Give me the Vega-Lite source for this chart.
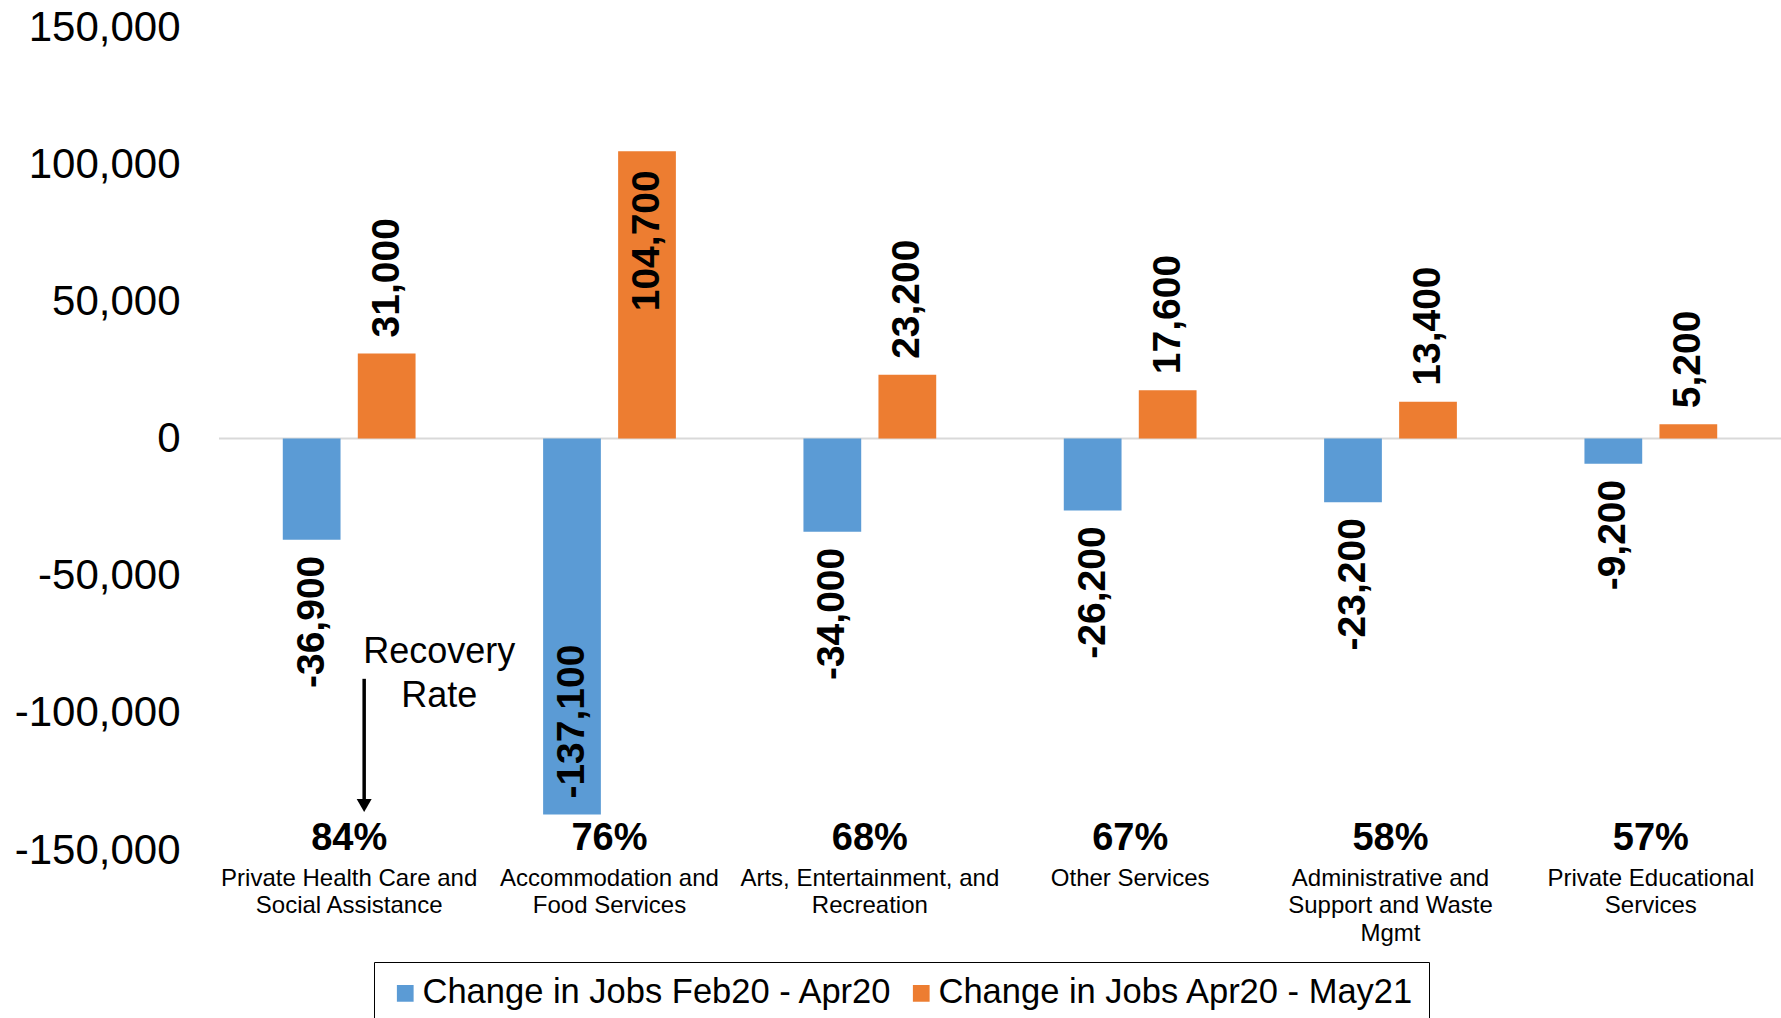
{
  "$schema": "https://vega.github.io/schema/vega-lite/v6.json",
  "autosize": {"type": "none"},
  "padding": {"left": 219, "top": 27, "right": 0, "bottom": 168},
  "width": 1562,
  "height": 823,
  "background": "white",
  "config": {
    "font": "Liberation Sans",
    "view": {"stroke": null},
    "locale": {"number": {"decimal": ".", "thousands": ",", "grouping": [3], "currency": ["$", ""], "minus": "-"}}
  },
  "datasets": {
    "jobs": [
      {"category": "Private Health Care and Social Assistance", "series": "Change in Jobs Feb20 - Apr20", "value": -36900},
      {"category": "Private Health Care and Social Assistance", "series": "Change in Jobs Apr20 - May21", "value": 31000},
      {"category": "Accommodation and Food Services", "series": "Change in Jobs Feb20 - Apr20", "value": -137100},
      {"category": "Accommodation and Food Services", "series": "Change in Jobs Apr20 - May21", "value": 104700},
      {"category": "Arts, Entertainment, and Recreation", "series": "Change in Jobs Feb20 - Apr20", "value": -34000},
      {"category": "Arts, Entertainment, and Recreation", "series": "Change in Jobs Apr20 - May21", "value": 23200},
      {"category": "Other Services", "series": "Change in Jobs Feb20 - Apr20", "value": -26200},
      {"category": "Other Services", "series": "Change in Jobs Apr20 - May21", "value": 17600},
      {"category": "Administrative and Support and Waste Mgmt", "series": "Change in Jobs Feb20 - Apr20", "value": -23200},
      {"category": "Administrative and Support and Waste Mgmt", "series": "Change in Jobs Apr20 - May21", "value": 13400},
      {"category": "Private Educational Services", "series": "Change in Jobs Feb20 - Apr20", "value": -9200},
      {"category": "Private Educational Services", "series": "Change in Jobs Apr20 - May21", "value": 5200}
    ],
    "rates": [
      {"category": "Private Health Care and Social Assistance", "rate": "84%"},
      {"category": "Accommodation and Food Services", "rate": "76%"},
      {"category": "Arts, Entertainment, and Recreation", "rate": "68%"},
      {"category": "Other Services", "rate": "67%"},
      {"category": "Administrative and Support and Waste Mgmt", "rate": "58%"},
      {"category": "Private Educational Services", "rate": "57%"}
    ],
    "note": [
      {"category": "Private Health Care and Social Assistance", "label": "Recovery Rate"}
    ]
  },
  "data": {"name": "jobs"},
  "layer": [
    {
      "data": {"name": "note"},
      "mark": {"type": "rule", "color": "#d9d9d9", "strokeWidth": 2},
      "encoding": {"y": {"datum": 0, "type": "quantitative"}}
    },
    {
      "mark": {"type": "bar"},
      "encoding": {
        "x": {
          "field": "category",
          "type": "nominal",
          "sort": null,
          "scale": {"domain": ["Private Health Care and Social Assistance", "Accommodation and Food Services", "Arts, Entertainment, and Recreation", "Other Services", "Administrative and Support and Waste Mgmt", "Private Educational Services"], "paddingInner": 0.49, "paddingOuter": 0.245},
          "axis": {
            "title": null,
            "orient": "bottom",
            "domain": false,
            "ticks": false,
            "tickSize": 0,
            "labelAngle": 0,
            "labelFontSize": 24,
            "labelColor": "#000000",
            "labelPadding": 16,
            "labelBaseline": "top",
            "labelLineHeight": 27.5,
            "labelLimit": 400,
            "labelExpr": "datum.label == 'Private Health Care and Social Assistance' ? ['Private Health Care and', 'Social Assistance'] : datum.label == 'Accommodation and Food Services' ? ['Accommodation and', 'Food Services'] : datum.label == 'Arts, Entertainment, and Recreation' ? ['Arts, Entertainment, and', 'Recreation'] : datum.label == 'Administrative and Support and Waste Mgmt' ? ['Administrative and', 'Support and Waste', 'Mgmt'] : datum.label == 'Private Educational Services' ? ['Private Educational', 'Services'] : datum.label"
          }
        },
        "xOffset": {"field": "series", "type": "nominal", "sort": null, "scale": {"domain": ["Change in Jobs Feb20 - Apr20", "Change in Jobs Apr20 - May21"], "paddingInner": 0.23, "paddingOuter": 0}},
        "y": {
          "field": "value",
          "type": "quantitative",
          "scale": {"domain": [-150000, 150000], "nice": false},
          "axis": {
            "title": null,
            "domain": false,
            "ticks": false,
            "tickSize": 0,
            "grid": false,
            "values": [-150000, -100000, -50000, 0, 50000, 100000, 150000],
            "format": ",.0f",
            "labelFontSize": 42,
            "labelColor": "#000000",
            "labelPadding": 39
          }
        },
        "color": {
          "field": "series",
          "type": "nominal",
          "sort": null,
          "scale": {"domain": ["Change in Jobs Feb20 - Apr20", "Change in Jobs Apr20 - May21"], "range": ["#5B9BD5", "#ED7D31"]},
          "legend": {
            "title": null,
            "orient": "none",
            "legendX": 155,
            "legendY": 935,
            "direction": "horizontal",
            "strokeColor": "#000000",
            "padding": 14,
            "symbolType": "square",
            "symbolSize": 280,
            "symbolStrokeWidth": 0,
            "symbolOpacity": 1,
            "labelFontSize": 34.5,
            "labelColor": "#000000",
            "labelOffset": 0,
            "labelLimit": 700,
            "columnPadding": 11
          }
        }
      }
    },
    {
      "transform": [{"filter": "datum.value > 0 && datum.value < 60000"}],
      "mark": {"type": "text", "angle": 270, "align": "left", "baseline": "middle", "dx": 16, "fontSize": 39, "fontWeight": "bold", "color": "#000000"},
      "encoding": {
        "x": {"field": "category", "type": "nominal", "sort": null},
        "xOffset": {"field": "series", "type": "nominal", "sort": null},
        "y": {"field": "value", "type": "quantitative"},
        "text": {"field": "value", "type": "quantitative", "format": ","}
      }
    },
    {
      "transform": [{"filter": "datum.value >= 60000"}],
      "mark": {"type": "text", "angle": 270, "align": "right", "baseline": "middle", "dx": -19, "fontSize": 39, "fontWeight": "bold", "color": "#000000"},
      "encoding": {
        "x": {"field": "category", "type": "nominal", "sort": null},
        "xOffset": {"field": "series", "type": "nominal", "sort": null},
        "y": {"field": "value", "type": "quantitative"},
        "text": {"field": "value", "type": "quantitative", "format": ","}
      }
    },
    {
      "transform": [{"filter": "datum.value < 0 && datum.value > -120000"}],
      "mark": {"type": "text", "angle": 270, "align": "right", "baseline": "middle", "dx": -16, "fontSize": 39, "fontWeight": "bold", "color": "#000000"},
      "encoding": {
        "x": {"field": "category", "type": "nominal", "sort": null},
        "xOffset": {"field": "series", "type": "nominal", "sort": null},
        "y": {"field": "value", "type": "quantitative"},
        "text": {"field": "value", "type": "quantitative", "format": ","}
      }
    },
    {
      "transform": [{"filter": "datum.value <= -120000"}],
      "mark": {"type": "text", "angle": 270, "align": "left", "baseline": "middle", "dx": 16, "fontSize": 39, "fontWeight": "bold", "color": "#000000"},
      "encoding": {
        "x": {"field": "category", "type": "nominal", "sort": null},
        "xOffset": {"field": "series", "type": "nominal", "sort": null},
        "y": {"field": "value", "type": "quantitative"},
        "text": {"field": "value", "type": "quantitative", "format": ","}
      }
    },
    {
      "data": {"name": "rates"},
      "mark": {"type": "text", "baseline": "middle", "align": "center", "fontSize": 38, "fontWeight": "bold", "color": "#000000"},
      "encoding": {
        "x": {"field": "category", "type": "nominal", "sort": null},
        "y": {"datum": -146000, "type": "quantitative"},
        "text": {"field": "rate", "type": "nominal"}
      }
    },
    {
      "data": {"name": "note"},
      "mark": {"type": "text", "align": "center", "baseline": "alphabetic", "dx": 90, "fontSize": 36, "lineHeight": 44, "color": "#000000"},
      "encoding": {
        "x": {"field": "category", "type": "nominal", "sort": null},
        "y": {"datum": -81800, "type": "quantitative"},
        "text": {"value": ["Recovery", "Rate"]}
      }
    },
    {
      "data": {"name": "note"},
      "mark": {"type": "rule", "color": "#000000", "strokeWidth": 3.5, "xOffset": 15},
      "encoding": {
        "x": {"field": "category", "type": "nominal", "sort": null},
        "y": {"datum": -87600, "type": "quantitative"},
        "y2": {"datum": -131500}
      }
    },
    {
      "data": {"name": "note"},
      "mark": {"type": "point", "shape": "triangle-down", "filled": true, "size": 225, "color": "#000000", "opacity": 1, "xOffset": 15},
      "encoding": {
        "x": {"field": "category", "type": "nominal", "sort": null},
        "y": {"datum": -133800, "type": "quantitative"}
      }
    }
  ]
}
